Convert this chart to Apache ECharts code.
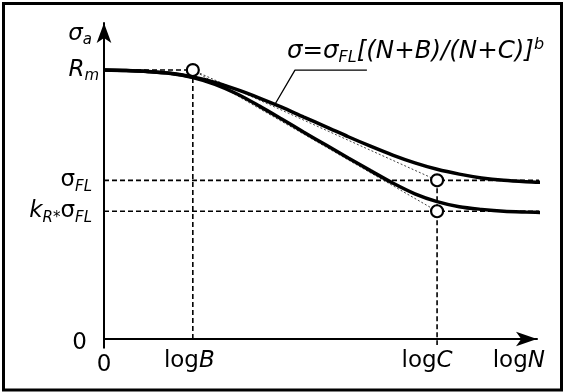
<!DOCTYPE html>
<html>
<head>
<meta charset="utf-8">
<script src="https://cdn.jsdelivr.net/npm/echarts@6/dist/echarts.min.js"></script>
<style>
  html, body { margin: 0; padding: 0; background: #fff; }
  #chart { width: 565px; height: 392px; }
</style>
</head>
<body>
<div id="chart"></div>
<script>
  // log N sample positions and the two S-N curves (sigma_a, Rm = 100)
  var logN = [0, 0.5, 1, 1.5, 2, 2.5, 3, 3.5, 4, 4.5, 5, 5.5, 6, 6.5, 7, 7.5, 8, 8.5, 9, 9.5, 10];
  var upperCurve = [100, 99.8, 99.5, 98.8, 97.4, 95.4, 92.7, 89.6, 86.2, 82.5, 78.9, 75.2, 71.7, 68.4, 65.5, 63.1, 61.3, 59.9, 59.0, 58.5, 58.2];
  var lowerCurve = [100, 99.8, 99.4, 98.7, 97.2, 94.7, 91.1, 86.6, 81.8, 76.9, 72.1, 67.3, 62.6, 58.0, 54.0, 51.1, 49.2, 48.2, 47.5, 47.2, 47.0];

  var logB = 2, logC = 7.5;
  var Rm = 100, sigmaFL = 59, kRsigmaFL = 47.5;

  // tick labels
  var xTickValues = [0, logB, logC];
  var xTickLabels = ['{z|0}', '{u|log}{i|B}{s7| }', '{u|log}{i|C}{s20| }'];
  var yTickValues = [0, kRsigmaFL, sigmaFL, Rm];
  var yTickLabels = ['{z0|0}{s12| }', '{i|k}{sub|R*}{u|σ}{sub|FL}{s7| }', '{u|σ}{sub|FL}{s7| }', '{i|R}{sub|m}'];

  // leader line from the upper curve to the formula
  var leader = [[3.85, 87.3], [4.3, 100], [5.92, 100]];

  var FONT = 'DejaVu Sans';
  var rich = {
    u: { fontFamily: FONT, fontSize: 23, lineHeight: 28, color: '#000' },
    i: { fontFamily: FONT, fontSize: 23, lineHeight: 28, fontStyle: 'italic', color: '#000' },
    z: { fontFamily: FONT, fontSize: 23, lineHeight: 28, color: '#000', padding: [8, 0, 0, 0] },
    z0: { fontFamily: FONT, fontSize: 23, lineHeight: 28, color: '#000', padding: [8, 0, 0, 0] },
    sub: { fontFamily: FONT, fontSize: 15, lineHeight: 13, fontStyle: 'italic', verticalAlign: 'bottom', color: '#000' },
    s7: { width: 7, fontSize: 10 },
    s12: { width: 12, fontSize: 10 },
    s20: { width: 20, fontSize: 10 }
  };
  var formulaRich = {
    i: { fontFamily: FONT, fontSize: 24.5, lineHeight: 29, fontStyle: 'italic', color: '#000' },
    sub: { fontFamily: FONT, fontSize: 16, lineHeight: 13, fontStyle: 'italic', verticalAlign: 'bottom', color: '#000' },
    sup: { fontFamily: FONT, fontSize: 16, lineHeight: 21, fontStyle: 'italic', verticalAlign: 'top', color: '#000' }
  };

  function pairs(xs, ys) {
    return xs.map(function (x, i) { return [x, ys[i]]; });
  }

  var axisStyle = { color: '#000', width: 2 };
  var dashed = { color: '#000', width: 1.6, type: [5, 3] };
  var dotted = { color: '#444', width: 1, type: [2, 2] };

  function guide(data, style) {
    return { type: 'line', data: data, symbol: 'none', silent: true, clip: false, lineStyle: style, z: 1 };
  }

  function curve(ys) {
    return {
      type: 'line',
      data: pairs(logN, ys),
      smooth: 0.3,
      symbol: 'none',
      clip: false,
      lineStyle: { color: '#000', width: 3.5 },
      z: 3
    };
  }

  var myChart = echarts.init(document.getElementById('chart'));
  var option = {
    animation: false,
    backgroundColor: '#fff',
    grid: { left: 104, right: 28, top: 23, bottom: 53, containLabel: false },
    xAxis: {
      type: 'value',
      min: 0,
      max: 9.75,
      axisLine: {
        lineStyle: axisStyle,
        symbol: ['none', 'arrow'],
        symbolSize: [11, 21]
      },
      axisTick: { show: false },
      splitLine: { show: false },
      axisLabel: {
        customValues: xTickValues,
        margin: 8,
        formatter: function (v) { return xTickLabels[xTickValues.indexOf(v)]; },
        rich: rich
      },
      name: '{u|log}{i|N}',
      nameLocation: 'end',
      nameGap: 8,
      nameTextStyle: { align: 'right', verticalAlign: 'top', padding: [8, 0, 0, 0], rich: rich }
    },
    yAxis: {
      type: 'value',
      min: 0,
      max: 117.5,
      axisLine: {
        lineStyle: axisStyle,
        symbol: ['none', 'arrow'],
        symbolSize: [11, 20]
      },
      axisTick: { show: false },
      splitLine: { show: false },
      axisLabel: {
        customValues: yTickValues,
        margin: 5,
        formatter: function (v) { return yTickLabels[yTickValues.indexOf(v)]; },
        rich: rich
      },
      name: '{i|σ}{sub|a}',
      nameLocation: 'end',
      nameGap: -11,
      nameTextStyle: { align: 'right', verticalAlign: 'middle', padding: [0, 12, 0, 0], rich: rich }
    },
    graphic: [
      {
        type: 'rect',
        shape: { x: 3.5, y: 3.5, width: 558, height: 386.5 },
        style: { fill: 'none', stroke: '#000', lineWidth: 3 },
        silent: true
      },
      {
        type: 'text',
        left: 287,
        top: 37,
        style: {
          text: '{i|σ=σ}{sub|FL}{i|[(N+B)/(N+C)]}{sup|b}',
          rich: formulaRich
        },
        silent: true
      }
    ],
    series: [
      // small axis overhangs past the origin
      guide([[-0.3, 0], [0, 0]], axisStyle),
      guide([[0, 0], [0, -3.5]], axisStyle),
      guide([[0, Rm], [logB, Rm]], dashed),
      guide([[logB, Rm], [logB, 0]], dashed),
      guide([[0, sigmaFL], [logN[logN.length - 1], sigmaFL]], dashed),
      guide([[0, kRsigmaFL], [logN[logN.length - 1], kRsigmaFL]], dashed),
      guide([[logC, sigmaFL], [logC, -2.2]], dashed),
      guide([[logB, Rm], [logC, sigmaFL]], dotted),
      guide([[logB, Rm], [logC, kRsigmaFL]], dotted),
      guide(leader, { color: '#000', width: 1.3 }),
      curve(upperCurve),
      curve(lowerCurve),
      {
        type: 'scatter',
        data: [[logB, Rm], [logC, sigmaFL], [logC, kRsigmaFL]],
        symbol: 'circle',
        symbolSize: 12,
        clip: false,
        itemStyle: { color: '#fff', borderColor: '#000', borderWidth: 2.2, opacity: 1 },
        z: 5
      }
    ]
  };
  myChart.setOption(option);
  window.onresize = function () {
    myChart.resize();
  };
</script>
</body>
</html>
